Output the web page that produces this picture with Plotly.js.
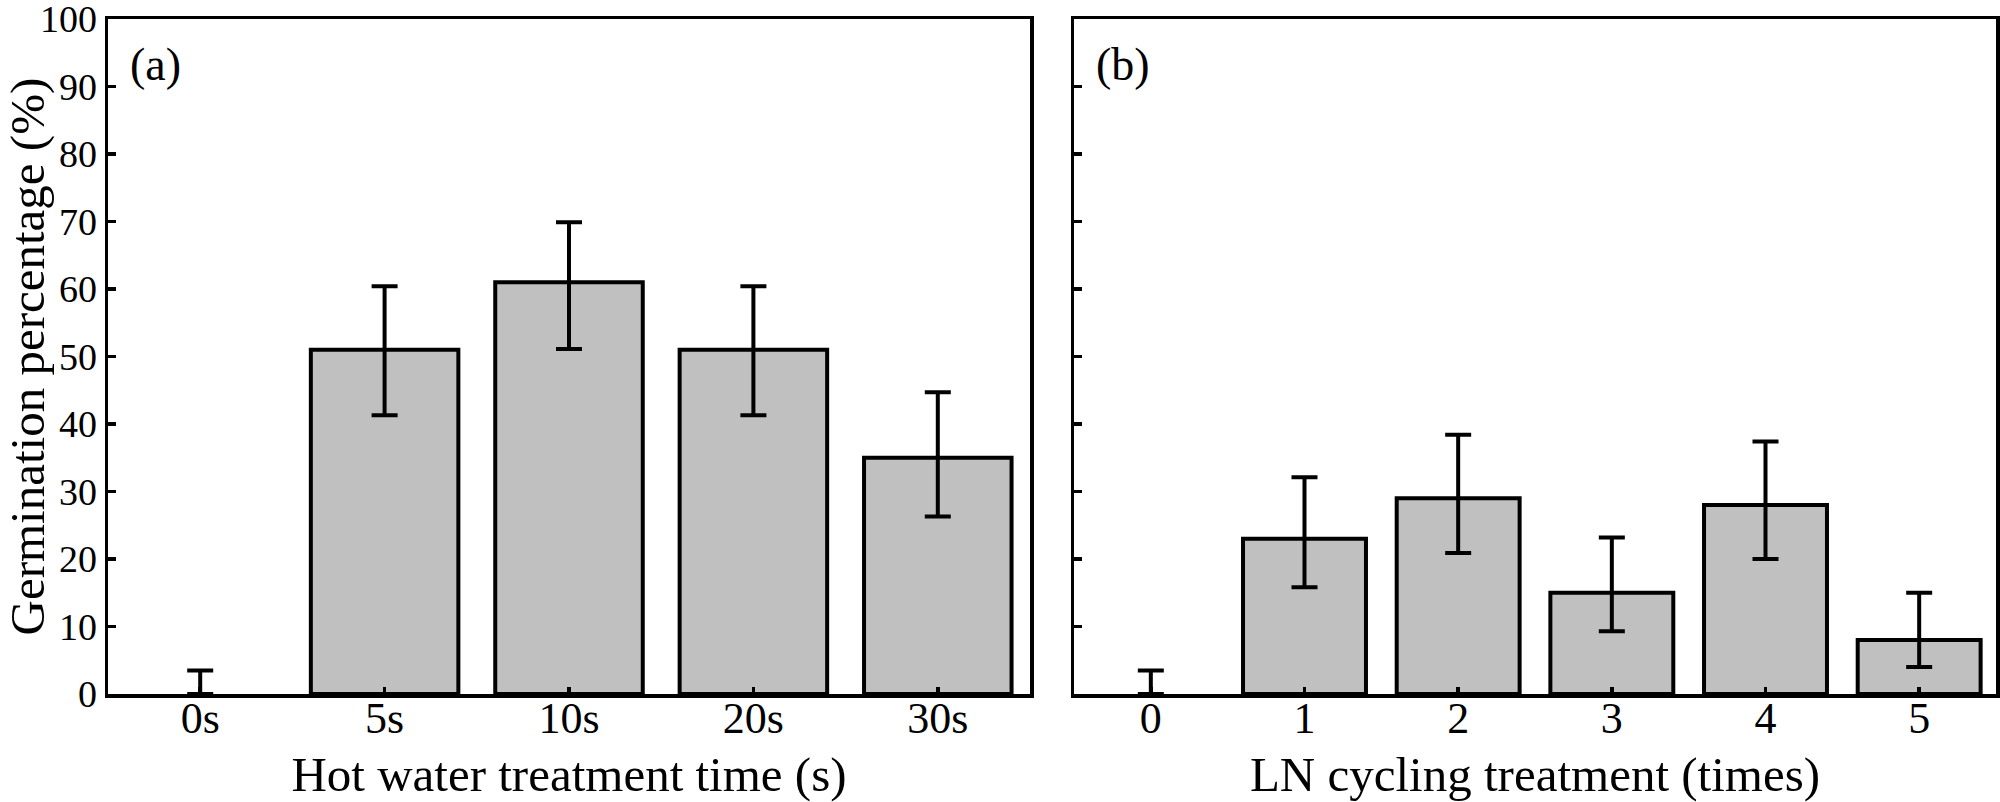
<!DOCTYPE html>
<html>
<head>
<meta charset="utf-8">
<script src="https://cdn.plot.ly/plotly-3.0.1.min.js"></script>
<style>
  html, body { margin: 0; padding: 0; background: #ffffff; }
  #chart { width: 2000px; height: 802px; }
</style>
</head>
<body>
<div id="chart"></div>
<script>
// (a) Hot water treatment time
const hotLabels = ['0s', '5s', '10s', '20s', '30s'];
const hotMean = [0, 51, 61, 51, 35];
const hotErrPlus = [3.5, 9.4, 8.9, 9.4, 9.7];
const hotErrMinus = [0, 9.7, 9.9, 9.7, 8.7];

// (b) LN cycling treatment (times)
const lnLabels = ['0', '1', '2', '3', '4', '5'];
const lnMean = [0, 23, 29, 15, 28, 8];
const lnErrPlus = [3.5, 9.1, 9.4, 8.2, 9.4, 7.0];
const lnErrMinus = [0, 7.2, 8.1, 5.7, 8.0, 4.0];

const yTicks = [0, 10, 20, 30, 40, 50, 60, 70, 80, 90, 100];

const FONT = 'Liberation Serif, Times New Roman, serif';
const BAR_FILL = '#c0c0c0';

// page geometry (px)
const W = 2000, H = 802;
const M = { l: 108, r: 4, t: 19, b: 108 };
const plotW = W - M.l - M.r;

function barTrace(labels, mean, plus, minus, xa, ya) {
  return {
    type: 'bar',
    x: labels,
    y: mean,
    xaxis: xa,
    yaxis: ya,
    width: 0.8,
    marker: {
      color: BAR_FILL,
      // empty (zero) bars get no outline
      line: { color: '#000000', width: mean.map(v => (v > 0 ? 4 : 0)) }
    },
    error_y: {
      type: 'data',
      symmetric: false,
      array: plus,
      arrayminus: minus,
      color: '#000000',
      thickness: 4,
      width: 13
    },
    hoverinfo: 'x+y',
    showlegend: false
  };
}

const data = [
  barTrace(hotLabels, hotMean, hotErrPlus, hotErrMinus, 'x', 'y'),
  barTrace(lnLabels, lnMean, lnErrPlus, lnErrMinus, 'x2', 'y2')
];

const axisLine = {
  showline: true,
  linecolor: '#000000',
  linewidth: 3.5,
  mirror: true,
  showgrid: false,
  zeroline: false,
  ticks: 'inside',
  tickcolor: '#000000',
  tickwidth: 3.5
};

const layout = {
  width: W,
  height: H,
  paper_bgcolor: '#ffffff',
  plot_bgcolor: '#ffffff',
  font: { family: FONT, color: '#000000' },
  margin: M,
  xaxis: Object.assign({}, axisLine, {
    domain: [0, 922 / plotW],
    type: 'category',
    range: [-0.5, 4.5],
    ticklen: 7,
    ticklabelstandoff: -17,
    tickfont: { family: FONT, size: 44 },
    title: { text: 'Hot water treatment time (s)', font: { family: FONT, size: 49 }, standoff: 15 },
    anchor: 'y'
  }),
  yaxis: Object.assign({}, axisLine, {
    domain: [0, 1],
    range: [0, 100.001],
    tickvals: yTicks,
    ticklen: 8,
    ticklabeloverflow: 'allow',
    tickfont: { family: FONT, size: 38 },
    anchor: 'x'
  }),
  xaxis2: Object.assign({}, axisLine, {
    domain: [966 / plotW, 1],
    type: 'category',
    range: [-0.5, 5.5],
    ticklen: 7,
    ticklabelstandoff: -17,
    tickfont: { family: FONT, size: 44 },
    title: { text: 'LN cycling treatment (times)', font: { family: FONT, size: 49 }, standoff: 15 },
    anchor: 'y2'
  }),
  yaxis2: Object.assign({}, axisLine, {
    domain: [0, 1],
    range: [0, 100.001],
    tickvals: yTicks,
    ticklen: 8,
    showticklabels: false,
    anchor: 'x2'
  }),
  annotations: [
    // y-axis title, rotated, at the far left of the figure
    { text: 'Germination percentage (%)', xref: 'paper', yref: 'paper',
      x: (27 - M.l) / plotW, y: 0.5, xanchor: 'center', yanchor: 'middle', textangle: -90,
      showarrow: false, font: { family: FONT, size: 49, color: '#000000' } },
    { text: '(a)', xref: 'x domain', yref: 'y domain', x: 0.022, y: 0.932, xanchor: 'left', yanchor: 'middle',
      showarrow: false, font: { family: FONT, size: 46, color: '#000000' } },
    { text: '(b)', xref: 'x2 domain', yref: 'y2 domain', x: 0.022, y: 0.932, xanchor: 'left', yanchor: 'middle',
      showarrow: false, font: { family: FONT, size: 46, color: '#000000' } }
  ]
};

Plotly.newPlot('chart', data, layout, { displayModeBar: false, staticPlot: true });
</script>
</body>
</html>
